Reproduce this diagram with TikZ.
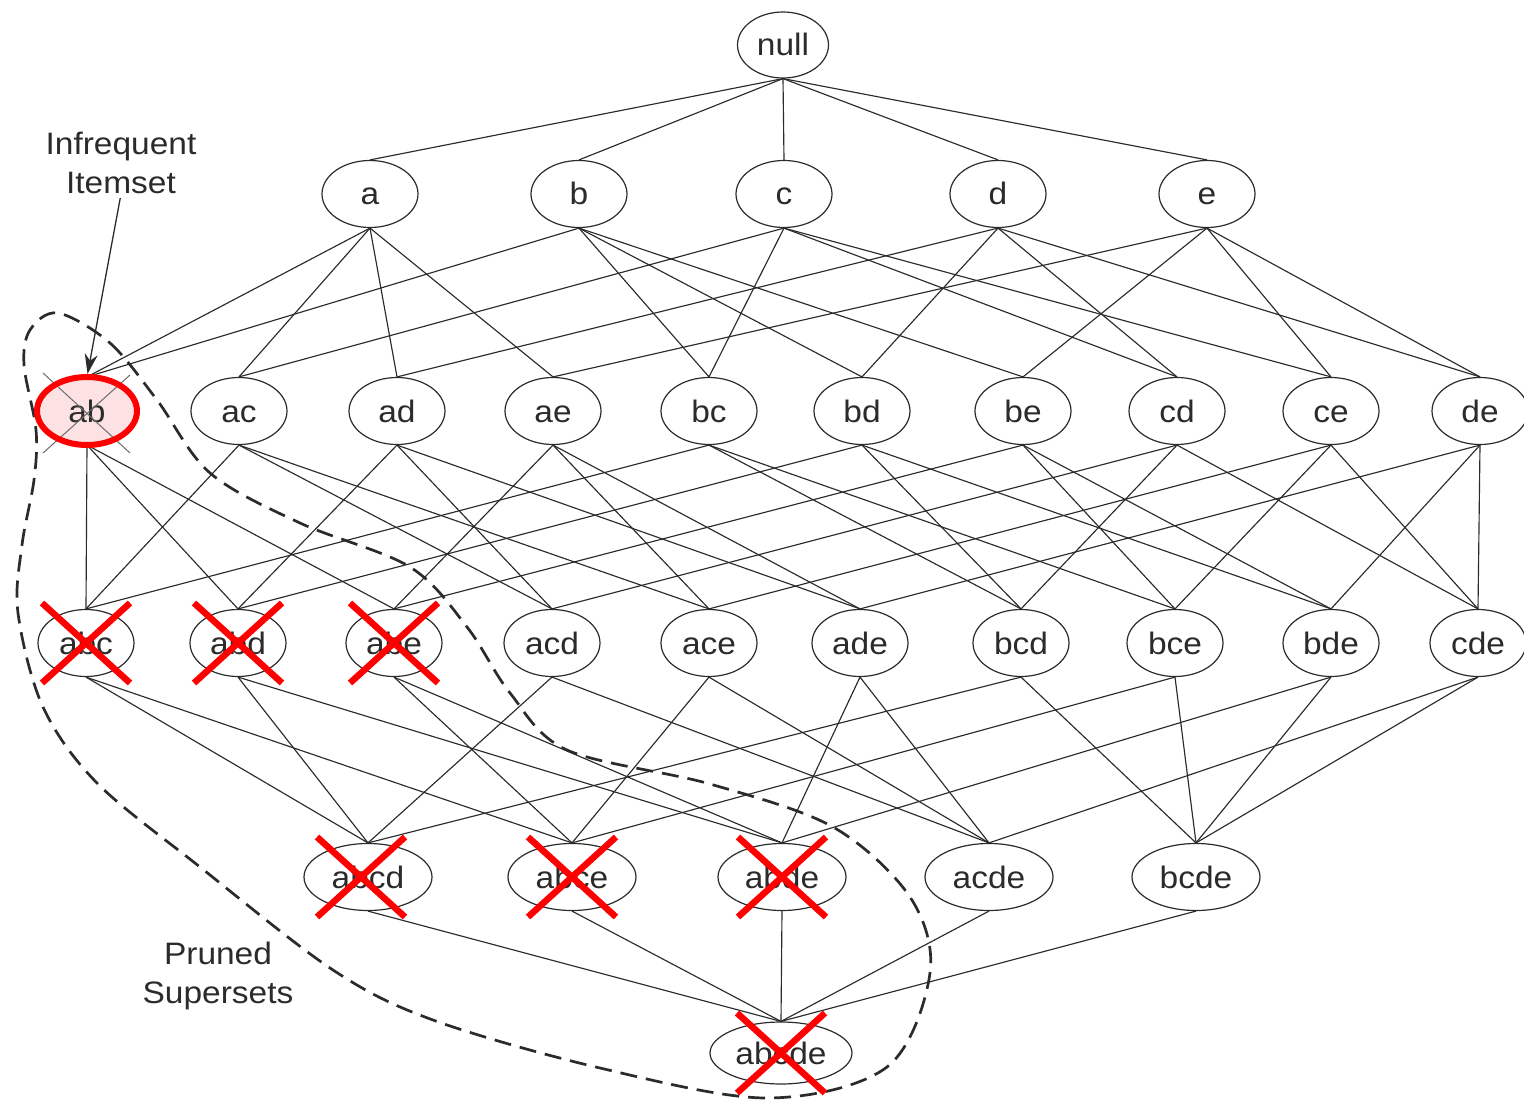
\documentclass[tikz,border=0pt]{standalone}
\usepackage{fontspec}
\setmainfont{Liberation Sans}[FakeStretch=1.08]
\usetikzlibrary{shapes.geometric,arrows.meta}
\definecolor{ink}{HTML}{2B2B2B}
\definecolor{pinkfill}{HTML}{FCE2E2}
\definecolor{xred}{HTML}{FF0000}
\begin{document}
\begin{tikzpicture}[x=1pt,y=-1pt,
  iset/.style={ellipse, draw=ink, line width=1.2pt, fill=white, inner sep=0pt,
    minimum width=96pt, minimum height=67pt, text=ink, text height=22pt, text depth=0pt,
    font=\fontsize{31}{37}\selectfont},
  wset/.style={iset, minimum width=128pt},
  edge/.style={draw=ink, line width=1.15pt},
  xmark/.style={draw=xred, line width=6.5pt},
  lbl/.style={align=center, text=ink, font=\fontsize{31}{39}\selectfont, inner sep=0pt},
  hull/.style={draw=ink, line width=2.7pt, dash pattern=on 17pt off 9pt}]
\useasboundingbox (0,0) rectangle (1524,1102);

% level 0
\node[iset, minimum width=91pt, minimum height=66pt] (null) at (783,45) {null};
% level 1
\node[iset] (a) at (370,194) {a};
\node[iset] (b) at (579,194) {b};
\node[iset] (c) at (784,194) {c};
\node[iset] (d) at (998,194) {d};
\node[iset] (e) at (1207,194) {e};
% level 2
\node[iset, fill=pinkfill] (ab) at (87,411) {ab};
\node[iset] (ac) at (239,411) {ac};
\node[iset] (ad) at (397,411) {ad};
\node[iset] (ae) at (553,411) {ae};
\node[iset] (bc) at (709,411) {bc};
\node[iset] (bd) at (862,411) {bd};
\node[iset] (be) at (1023,411) {be};
\node[iset] (cd) at (1177,411) {cd};
\node[iset] (ce) at (1331,411) {ce};
\node[iset] (de) at (1480,411) {de};
% level 3
\node[iset] (abc) at (86,643) {abc};
\node[iset] (abd) at (238,643) {abd};
\node[iset] (abe) at (394,643) {abe};
\node[iset] (acd) at (552,643) {acd};
\node[iset] (ace) at (709,643) {ace};
\node[iset] (ade) at (860,643) {ade};
\node[iset] (bcd) at (1021,643) {bcd};
\node[iset] (bce) at (1175,643) {bce};
\node[iset] (bde) at (1331,643) {bde};
\node[iset] (cde) at (1478,643) {cde};
% level 4
\node[wset] (abcd) at (368,877) {abcd};
\node[wset] (abce) at (572,877) {abce};
\node[wset] (abde) at (782,877) {abde};
\node[wset] (acde) at (989,877) {acde};
\node[wset] (bcde) at (1196,877) {bcde};
% level 5
\node[iset, minimum width=142pt, minimum height=62pt] (abcde) at (781,1053) {abcde};

% edges
\foreach \q in {a,b,c,d,e} {\draw[edge] (null.south) -- (\q.north);}
\foreach \s/\p/\q in {ab/a/b, ac/a/c, ad/a/d, ae/a/e, bc/b/c, bd/b/d, be/b/e, cd/c/d, ce/c/e, de/d/e}
  {\draw[edge] (\p.south) -- (\s.north); \draw[edge] (\q.south) -- (\s.north);}
\foreach \s/\p/\q/\r in {abc/ab/ac/bc, abd/ab/ad/bd, abe/ab/ae/be, acd/ac/ad/cd, ace/ac/ae/ce,
  ade/ad/ae/de, bcd/bc/bd/cd, bce/bc/be/ce, bde/bd/be/de, cde/cd/ce/de}
  {\draw[edge] (\p.south) -- (\s.north); \draw[edge] (\q.south) -- (\s.north);
   \draw[edge] (\r.south) -- (\s.north);}
\foreach \s/\p/\q/\r/\t in {abcd/abc/abd/acd/bcd, abce/abc/abe/ace/bce, abde/abd/abe/ade/bde,
  acde/acd/ace/ade/cde, bcde/bcd/bce/bde/cde}
  {\draw[edge] (\p.south) -- (\s.north); \draw[edge] (\q.south) -- (\s.north);
   \draw[edge] (\r.south) -- (\s.north); \draw[edge] (\t.south) -- (\s.north);}
\foreach \p in {abcd,abce,abde,acde,bcde} {\draw[edge] (\p.south) -- (abcde.north);}

% pruned hull
\draw[hull] plot[smooth cycle, tension=0.55] coordinates {
  (58,313) (110,343) (157,400) (210,473) (300,523) (410,567) (467,627) (510,693)
  (567,750) (710,784) (833,827) (910,897) (930,973) (887,1067) (767,1098) (600,1068)
  (433,1020) (333,970) (200,867) (97,783) (43,707) (18,613) (22,545) (34,480)
  (36,430) (24,365) (30,330)};

% infrequent itemset marking
\draw[draw=ink!70, line width=1pt] ([shift={(-44,-38)}]ab.center) -- ([shift={(43,42)}]ab.center);
\draw[draw=ink!70, line width=1pt] ([shift={(43,-36)}]ab.center) -- ([shift={(-44,42)}]ab.center);
\draw[draw=xred, line width=6pt] (ab.center) ellipse [x radius=50, y radius=34];

% pruned marks
\foreach \n in {abc,abd,abe,abce,abde,abcde}
  {\draw[xmark] ([shift={(-44,-40)}]\n.center) -- ([shift={(44,40)}]\n.center);
   \draw[xmark] ([shift={(-44,40)}]\n.center) -- ([shift={(44,-40)}]\n.center);}
\draw[xmark] ([shift={(-51,-40)}]abcd.center) -- ([shift={(37,40)}]abcd.center);
\draw[xmark] ([shift={(-51,40)}]abcd.center) -- ([shift={(37,-40)}]abcd.center);

% labels
\node[lbl] (inf) at (121,163) {Infrequent\\Itemset};
\draw[draw=ink, line width=1.3pt, -{Stealth[length=20pt,width=13pt]}, shorten <=4pt, shorten >=3pt]
  (inf.south) -- (ab.north);
\node[lbl] (pruned) at (218,976) {Pruned\\Supersets};
\end{tikzpicture}
\end{document}
